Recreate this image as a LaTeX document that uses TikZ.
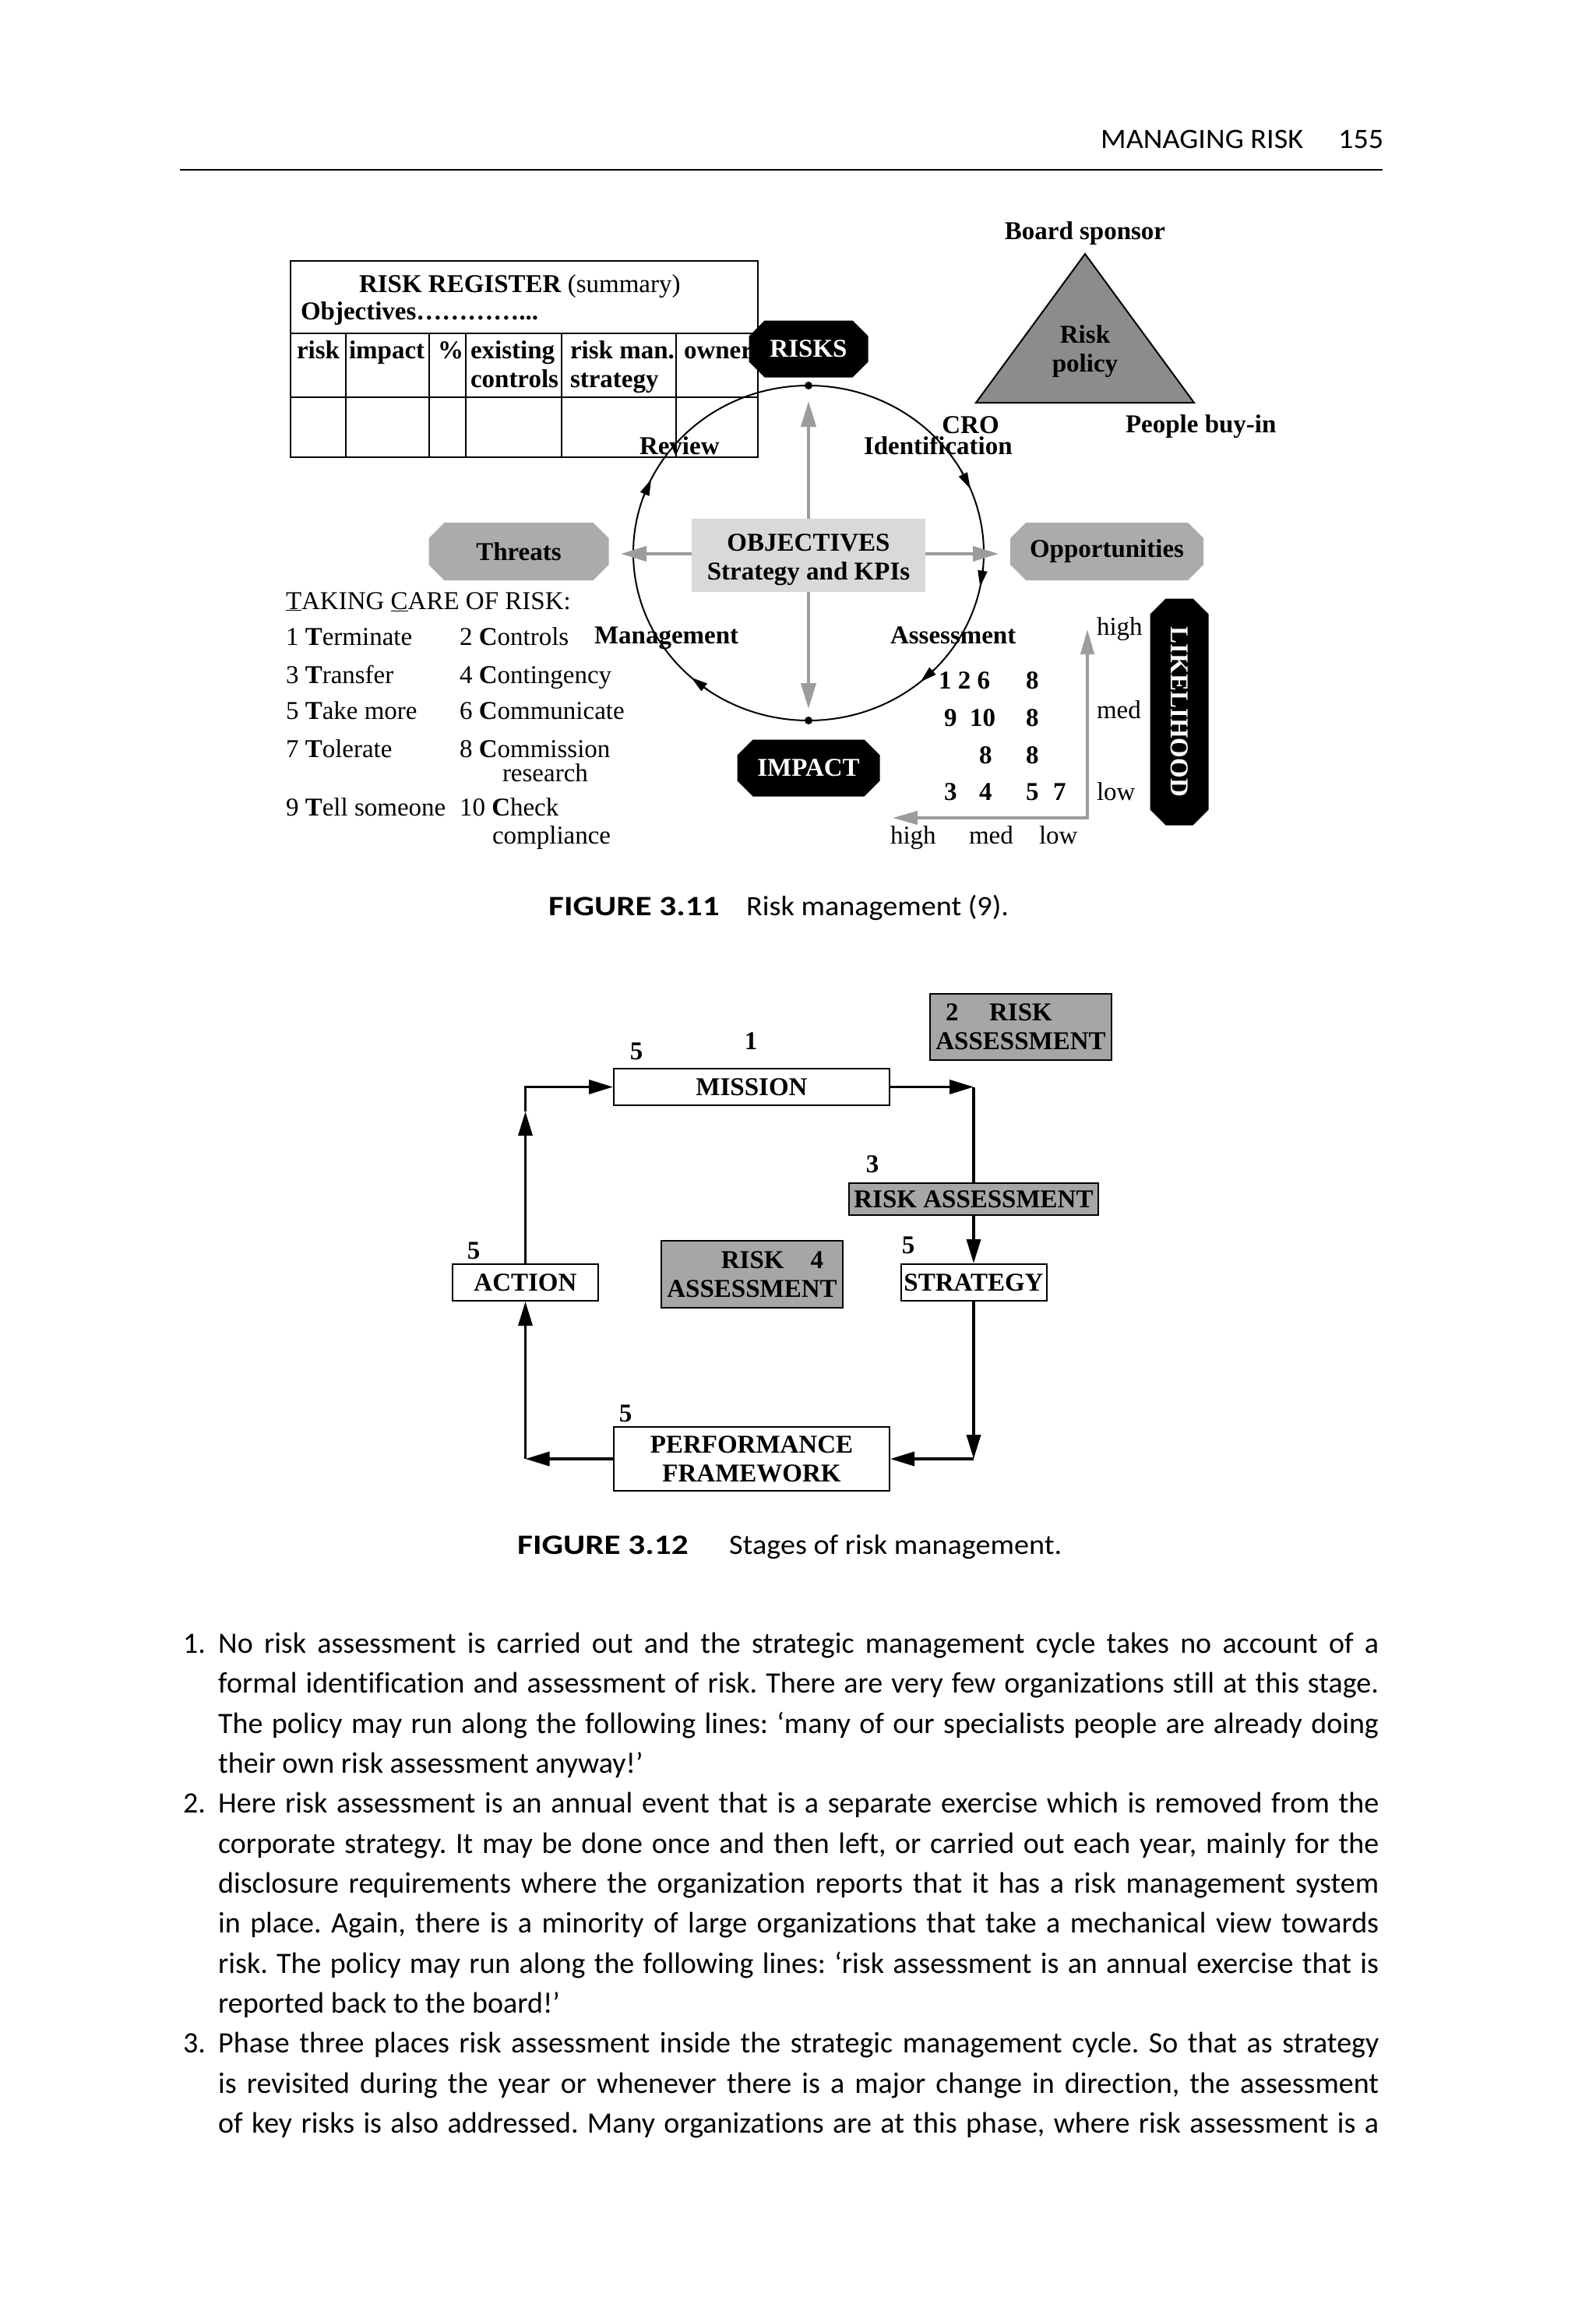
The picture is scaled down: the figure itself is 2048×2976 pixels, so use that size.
\documentclass[tikz,border=0pt]{standalone}
\usepackage{fontspec}
\setmainfont{Liberation Serif}
\newfontfamily\gill{Carlito}[Ligatures=NoCommon]
\newfontfamily\gillw{Carlito}[FakeStretch=1.06,Ligatures=NoCommon]
\newfontfamily\gillb{Carlito}[FakeStretch=1.2]
\usetikzlibrary{arrows.meta}
\definecolor{trig}{HTML}{8C8C8C}
\definecolor{objg}{HTML}{D9D9D9}
\definecolor{octg}{HTML}{ABABAB}
\definecolor{arrg}{HTML}{9C9C9C}
\definecolor{boxg}{HTML}{A6A6A6}
\newcommand\jl[1]{\makebox[1490pt][s]{#1}}
\frenchspacing
\tikzset{
  oct/.store in=\octc, oct=20pt,
  octfill/.store in=\octf, octfill=black,
  octo/.style={inner sep=0pt, outer sep=0pt, font=\fontsize{33}{37}\selectfont\bfseries,
    path picture={\fill[\octf]
      ([xshift=\octc]path picture bounding box.north west) --
      ([xshift=-\octc]path picture bounding box.north east) --
      ([yshift=-\octc]path picture bounding box.north east) --
      ([yshift=\octc]path picture bounding box.south east) --
      ([xshift=-\octc]path picture bounding box.south east) --
      ([xshift=\octc]path picture bounding box.south west) --
      ([yshift=\octc]path picture bounding box.south west) --
      ([yshift=-\octc]path picture bounding box.north west) -- cycle;}},
  tx/.style={inner sep=0pt, outer sep=0pt, font=\fontsize{33}{37}\selectfont, anchor=base west},
  tb/.style={tx, font=\fontsize{33}{37}\selectfont\bfseries},
  tbc/.style={tb, anchor=base},
  hd/.style={inner sep=0pt, anchor=base west, font=\gillw\fontsize{36}{40}\selectfont},
  capb/.style={inner sep=0pt, anchor=base west, font=\gillb\fontsize{36}{40}\selectfont\bfseries},
  body/.style={inner sep=0pt, anchor=base west, font=\gill\fontsize{38}{51}\selectfont},
  thin/.style={line width=2},
  garrow/.style={draw=arrg, line width=4, -{Triangle[length=33,width=19]}},
  garrowL/.style={draw=arrg, line width=4, {Triangle[length=32,width=17]}-{Triangle[length=32,width=17]}},
  earrow/.style={line width=2, -{Triangle[length=21,width=12]}},
  box/.style={draw, line width=2, fill=white, inner sep=0pt, font=\fontsize{33}{37}\selectfont\bfseries, align=center},
  gbox/.style={box, fill=boxg},
  flow/.style={line width=3.5, -{Triangle[length=31,width=18]}},
  flowline/.style={line width=3.5},
}
\begin{document}
\begin{tikzpicture}[x=1pt,y=-1pt]
\useasboundingbox (0,0) rectangle (2048,2976);
\fill[white] (0,0) rectangle (2048,2976);

% ---------- header
\node[hd] (hd1) at (1413,190) {MANAGING RISK};
\node[hd] (hd2) at (1718,190) {155};
\coordinate (r1) at (231,218); \coordinate (r2) at (1775,218);
\draw[line width=2.7] (r1) -- (r2);

% ---------- risk register table
\coordinate (tnw) at (373,335); \coordinate (tse) at (973,587);
\draw[thin] (tnw) rectangle (tse);
\draw[thin] (373,428) -- (973,428) (373,510) -- (973,510);
\foreach \cx in {444,551,598,721,868} \draw[thin] (\cx,428) -- (\cx,587);
\node[tb] (rr) at (461,375) {RISK REGISTER \mdseries(summary)};
\node[tb] (objv) at (386,410) {Objectives…………...};
\node[tb] (hrisk) at (381,460) {risk};
\node[tb] (himp) at (448,460) {impact};
\node[tb] (hpct) at (562,460) {\%};
\node[tb] (hex) at (604,460) {existing};
\node[tb] (hco) at (604,497) {controls};
\node[tb] (hrm) at (732,460) {risk man.};
\node[tb] (hst) at (732,497) {strategy};
\node[tb] (how) at (878,460) {owner};
\node[tb] (rev) at (821,583) {Review};

% ---------- triangle
\coordinate (ta) at (1393,326); \coordinate (tl) at (1253,517); \coordinate (tr) at (1533,517);
\draw[thin, fill=trig] (ta) -- (tl) -- (tr) -- cycle;
\node[tbc] (bs) at (1393,307) {Board sponsor};
\node[tbc] (rp1) at (1393,440) {Risk};
\node[tbc] (rp2) at (1393,477) {policy};
\node[tb] (pbi) at (1445,555) {People buy-in};
\node[tbc] (cro) at (1246,556) {CRO};
\node[tb] (idf) at (1109,583) {Identification};

% ---------- cycle ellipse
\coordinate (ec) at (1038,710);
\draw[thin] (ec) ellipse [x radius=225, y radius=215];
\foreach \ang in {206.2,337.5,371.7,410.3,492}
  \draw[earrow] ({1038+225*cos(\ang-7)},{710+215*sin(\ang-7)}) -- ({1038+225*cos(\ang)},{710+215*sin(\ang)});
\fill (1038,495) circle [radius=5];
\fill (1038,925) circle [radius=5];

% ---------- objectives and grey arrows
\node[fill=objg, minimum width=300, minimum height=94, inner sep=0pt] (objbox) at (1038,713) {};
\coordinate (au) at (1038,515); \coordinate (ad) at (1038,910);
\coordinate (al) at (797,711); \coordinate (ar) at (1282,711);
\draw[garrow] (objbox.north) -- (au);
\draw[garrow] (objbox.south) -- (ad);
\draw[garrow] (objbox.west |- al) -- (al);
\draw[garrow] (objbox.east |- ar) -- (ar);
\node[tbc] (ob1) at (1038,707) {OBJECTIVES};
\node[tbc] (ob2) at (1038,744) {Strategy and KPIs};

% ---------- octagons
\node[octo, minimum width=153, minimum height=73, text=white] (risks) at (1038,448) {RISKS};
\node[octo, minimum width=183, minimum height=73, text=white] (impact) at (1038,986) {IMPACT};
\node[octo, octfill=octg, minimum width=231, minimum height=74] (thr) at (666,708) {Threats};
\node[octo, octfill=octg, minimum width=248, minimum height=74] (opp) at (1421,708) {Opportunities};
\node[octo, minimum width=75, minimum height=291, text=white] (lik) at (1514,914) {\rotatebox{-90}{LIKELIHOOD}};

\node[tb] (mgmt) at (763,826) {Management};
\node[tb] (asmt) at (1143,826) {Assessment};

% ---------- taking care of risk
\node[tx] (tc) at (367,782) {\underline{T}AKING \underline{C}ARE OF RISK:};
\node[tx] (c11) at (367,828) {1 \textbf{T}erminate};
\node[tx] (c12) at (590,828) {2 \textbf{C}ontrols};
\node[tx] (c21) at (367,877) {3 \textbf{T}ransfer};
\node[tx] (c22) at (590,877) {4 \textbf{C}ontingency};
\node[tx] (c31) at (367,923) {5 \textbf{T}ake more};
\node[tx] (c32) at (590,923) {6 \textbf{C}ommunicate};
\node[tx] (c41) at (367,972) {7 \textbf{T}olerate};
\node[tx] (c42) at (590,972) {8 \textbf{C}ommission};
\node[tx] (c43) at (645,1003) {research};
\node[tx] (c51) at (367,1047) {9 \textbf{T}ell someone};
\node[tx] (c52) at (590,1047) {10 \textbf{C}heck};
\node[tx] (c53) at (632,1083) {compliance};

% ---------- grid
\node[tb] (g11) at (1205,884) {1 2 6};
\node[tb] (g12) at (1317,884) {8};
\node[tb] (g21) at (1212,932) {9};
\node[tb] (g22) at (1245,932) {10};
\node[tb] (g23) at (1317,932) {8};
\node[tb] (g31) at (1257,980) {8};
\node[tb] (g32) at (1317,980) {8};
\node[tb] (g41) at (1212,1027) {3};
\node[tb] (g42) at (1257,1027) {4};
\node[tb] (g43) at (1317,1027) {5};
\node[tb] (g44) at (1352,1027) {7};
\coordinate (lc) at (1396,1050); \coordinate (lu) at (1396,808); \coordinate (ll) at (1146,1050);
\draw[garrowL] (ll) -- (lc) -- (lu);
\node[tx] (lh) at (1408,815) {high};
\node[tx] (lm) at (1408,922) {med};
\node[tx] (lo) at (1408,1027) {low};
\node[tx] (ih) at (1143,1083) {high};
\node[tx] (im) at (1244,1083) {med};
\node[tx] (il) at (1334,1083) {low};

% ---------- caption 3.11
\node[capb] (f11) at (704,1175) {FIGURE 3.11};
\node[hd] (f11t) at (958,1175) {Risk management (9).};

% ---------- figure 3.12
\node[box, minimum width=354, minimum height=47] (mission) at (965,1395.5) {MISSION};
\node[gbox, minimum width=233, minimum height=85] (ra2) at (1310.5,1318.5) {2\hspace{39.5pt}RISK\hspace*{56pt}\\ASSESSMENT};
\node[gbox, minimum width=320, minimum height=41] (ra3) at (1250,1539.5) {RISK ASSESSMENT};
\node[box, minimum width=187, minimum height=47] (strategy) at (1250,1646.5) {STRATEGY};
\node[box, minimum width=187, minimum height=47] (action) at (674.5,1646.5) {ACTION};
\node[gbox, minimum width=233, minimum height=86] (ra4) at (965.5,1636) {\hspace*{52pt}RISK\hspace{34pt}4\\ASSESSMENT};
\node[box, minimum width=354, minimum height=82] (perf) at (965,1873) {PERFORMANCE\\FRAMEWORK};
\node[tbc] (n1) at (964,1347) {1};
\node[tbc] (n5a) at (817,1360) {5};
\node[tbc] (n3) at (1120,1505) {3};
\node[tbc] (n5b) at (1166,1609) {5};
\node[tbc] (n5c) at (608,1616) {5};
\node[tbc] (n5d) at (803,1825) {5};

\coordinate (c1) at (action.north |- mission.west);
\coordinate (c1a) at (674.5,1427);
\coordinate (c2) at (strategy.north |- mission.east);
\coordinate (c3) at (strategy.south |- perf.east);
\coordinate (c4) at (action.south |- perf.west);
\draw[flow] (action.north) -- (c1a);
\draw[flow] (c1a) -- (c1) -- (mission.west);
\draw[flow] (mission.east) -- (c2);
\draw[flowline] (c2) -- (ra3.north);
\draw[flow] (ra3.south) -- (strategy.north);
\draw[flow] (strategy.south) -- (c3);
\draw[flow] (c3) -- (perf.east);
\draw[flow] (perf.west) -- (c4);
\draw[flow] (c4) -- (action.south);

% ---------- caption 3.12
\node[capb] (f12) at (664,1995) {FIGURE 3.12};
\node[hd] (f12t) at (936,1995) {Stages of risk management.};

% ---------- body text
\node[body] (i1) at (235,2122) {1.};
\node[body] (b1) at (280,2122) {\jl{No risk assessment is carried out and the strategic management cycle takes no account of a}};
\node[body] (b2) at (280,2173) {\jl{formal identification and assessment of risk. There are very few organizations still at this stage.}};
\node[body] (b3) at (280,2225) {\jl{The policy may run along the following lines: ‘many of our specialists people are already doing}};
\node[body] (b4) at (280,2276) {their own risk assessment anyway!’};
\node[body] (i2) at (235,2327) {2.};
\node[body] (b5) at (280,2327) {\jl{Here risk assessment is an annual event that is a separate exercise which is removed from the}};
\node[body] (b6) at (280,2379) {\jl{corporate strategy. It may be done once and then left, or carried out each year, mainly for the}};
\node[body] (b7) at (280,2430) {\jl{disclosure requirements where the organization reports that it has a risk management system}};
\node[body] (b8) at (280,2481) {\jl{in place. Again, there is a minority of large organizations that take a mechanical view towards}};
\node[body] (b9) at (280,2533) {\jl{risk. The policy may run along the following lines: ‘risk assessment is an annual exercise that is}};
\node[body] (b10) at (280,2584) {reported back to the board!’};
\node[body] (i3) at (235,2635) {3.};
\node[body] (b11) at (280,2635) {\jl{Phase three places risk assessment inside the strategic management cycle. So that as strategy}};
\node[body] (b12) at (280,2687) {\jl{is revisited during the year or whenever there is a major change in direction, the assessment}};
\node[body] (b13) at (280,2738) {\jl{of key risks is also addressed. Many organizations are at this phase, where risk assessment is a}};
\end{tikzpicture}
\end{document}
